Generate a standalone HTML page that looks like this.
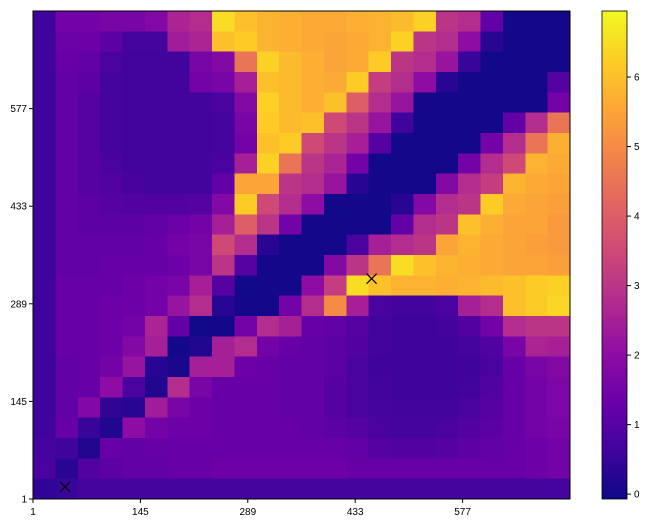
<!DOCTYPE html>
<html><head><meta charset="utf-8">
<style>
body{margin:0;background:#fff;width:647px;height:524px;overflow:hidden;font-family:"Liberation Sans",sans-serif;}
svg text{font-family:"Liberation Sans",sans-serif;font-size:10px;fill:#000;}
</style></head>
<body>
<svg id="chart" width="647" height="524" viewBox="0 0 647 524" xmlns="http://www.w3.org/2000/svg">
<g id="cells" shape-rendering="crispEdges"></g>
<g id="axes"></g>
<g id="cbar"></g>
</svg>
<script>
const xTickLabels = [1, 145, 289, 433, 577];
const yTickLabels = [1, 145, 289, 433, 577];
const cbarTicks = [0, 1, 2, 3, 4, 5, 6];
const markerX = [44, 455];
const markerY = [19, 326];
const r0 = [0.6,1.5,1.5,1.6,1.6,1.8,2.6,2.8,6.5,6.0,5.8,5.7,5.6,5.6,5.7,5.8,5.9,6.3,3.0,2.8,1.2,0,0,0];
const r1 = [0.6,1.4,1.4,1.1,0.7,0.7,2.4,2.6,6.0,6.2,5.8,5.7,5.6,5.5,5.6,5.8,6.3,3.0,2.8,2.0,0.3,0,0,0];
const r2 = [0.6,1.3,1.2,0.8,0.65,0.65,0.65,1.6,1.8,4.5,6.3,5.9,5.7,5.5,5.6,6.2,3.0,2.8,2.2,0.5,0,0,0,0];
const r3 = [0.6,1.2,1.1,0.7,0.65,0.65,0.65,1.5,1.6,2.5,6.0,5.9,5.7,5.6,6.2,3.2,2.8,2.0,0.3,0,0,0,0,1.0];
const r4 = [0.6,1.2,1.0,0.7,0.65,0.65,0.65,0.65,0.8,1.8,6.3,5.9,5.7,6.0,4.0,2.8,2.2,0,0,0,0,0,0,1.5];
const r5 = [0.6,1.2,1.0,0.7,0.65,0.65,0.65,0.65,0.7,1.6,6.2,5.9,6.0,3.5,3.0,2.2,0.6,0,0,0,0,1.2,2.8,4.5];
const r6 = [0.6,1.2,1.0,0.7,0.65,0.65,0.65,0.65,0.7,1.5,6.0,6.2,3.5,3.0,2.5,1.0,0,0,0,0,1.5,2.8,4.5,5.7];
const r7 = [0.6,1.2,1.0,0.8,0.65,0.65,0.65,0.65,0.8,2.5,6.3,4.5,3.0,2.6,1.5,0,0,0,0,1.5,2.8,3.5,5.8,5.6];
const r8 = [0.6,1.2,1.0,0.9,0.75,0.65,0.65,0.65,1.2,5.5,5.5,3.0,2.8,2.2,0.3,0,0,0,1.8,2.8,3.2,5.8,5.6,5.5];
const r9 = [0.6,1.2,1.1,1.0,0.9,0.9,0.9,1.0,1.8,6.2,3.5,2.8,2.0,0,0,0,0.3,1.8,2.8,3.0,6.2,5.6,5.5,5.4];
const r10 = [0.6,1.2,1.1,1.1,1.1,1.2,1.4,1.5,2.5,4.0,3.0,1.5,0,0,0,0,1.2,2.8,3.0,6.0,5.7,5.5,5.5,5.3];
const r11 = [0.6,1.2,1.2,1.2,1.2,1.3,1.5,1.6,3.5,2.8,0.3,0,0,0,0.8,2.5,2.8,3.0,5.5,5.8,5.6,5.5,5.4,5.3];
const r12 = [0.6,1.2,1.2,1.3,1.3,1.3,1.4,1.6,3.0,1.0,0,0,0,1.8,3.0,4.5,6.5,6.0,5.8,5.7,5.6,5.5,5.5,5.4];
const r13 = [0.6,1.3,1.3,1.3,1.4,1.5,1.6,2.5,1.0,0,0,0,2.0,3.2,6.5,6.0,5.8,5.8,5.7,5.8,5.9,6.0,6.2,6.3];
const r14 = [0.6,1.3,1.3,1.4,1.4,1.5,2.2,2.8,0.3,0,0,1.5,2.8,5.0,2.5,0.8,0.65,0.65,0.8,2.5,2.8,6.0,6.2,6.4];
const r15 = [0.6,1.3,1.3,1.4,1.5,2.6,1.2,0,0,1.5,2.8,2.5,1.3,1.2,1.0,0.65,0.6,0.6,0.65,0.9,1.5,2.8,3.0,3.0];
const r16 = [0.6,1.3,1.3,1.4,1.8,2.5,0,0.2,2.5,2.8,1.5,1.3,1.2,1.1,0.9,0.65,0.6,0.6,0.6,0.7,0.9,1.6,2.6,2.5];
const r17 = [0.6,1.2,1.3,1.5,2.2,0.3,0.1,2.5,2.5,1.4,1.3,1.2,1.2,1.1,0.8,0.6,0.6,0.6,0.6,0.6,0.8,1.3,1.6,1.8];
const r18 = [0.6,1.2,1.3,2.0,0.8,0.2,2.8,1.6,1.3,1.3,1.3,1.2,1.2,1.0,0.8,0.65,0.6,0.6,0.6,0.65,0.9,1.3,1.5,1.7];
const r19 = [0.6,1.2,1.8,0.4,0.3,2.4,1.6,1.4,1.3,1.3,1.3,1.2,1.2,1.0,0.8,0.7,0.65,0.65,0.65,0.8,1.0,1.3,1.5,1.7];
const r20 = [0.6,1.3,0.5,0.2,2.0,1.5,1.4,1.4,1.3,1.3,1.3,1.3,1.2,1.1,1.0,0.8,0.7,0.7,0.8,0.9,1.1,1.3,1.5,1.6];
const r21 = [0.7,0.6,0.2,1.3,1.2,1.3,1.3,1.3,1.3,1.3,1.3,1.3,1.3,1.3,1.2,1.0,0.9,0.9,1.0,1.1,1.2,1.3,1.4,1.5];
const r22 = [0.8,0.3,0.9,1.1,1.2,1.2,1.3,1.3,1.4,1.4,1.4,1.4,1.4,1.4,1.3,1.3,1.3,1.3,1.3,1.3,1.3,1.3,1.4,1.5];
const r23 = [0.4,0.5,0.7,0.7,0.7,0.7,0.7,0.7,0.7,0.7,0.7,0.7,0.7,0.7,0.7,0.7,0.7,0.7,0.7,0.7,0.7,0.7,0.7,0.7];
const grid = [r0,r1,r2,r3,r4,r5,r6,r7,r8,r9,r10,r11,r12,r13,r14,r15,r16,r17,r18,r19,r20,r21,r22,r23];

const NS = "http://www.w3.org/2000/svg";
const PX0 = 33, PX1 = 570, PY0 = 11, PY1 = 499;
const VMIN = -0.07, VMAX = 6.95;
const DMIN = 1, DMAX = 721;
function xData(v){ return PX0 + (v - DMIN) / (DMAX - DMIN) * (PX1 - PX0); }
function yData(v){ return PY1 - (v - DMIN) / (DMAX - DMIN) * (PY1 - PY0); }
const nCols = grid[0].length, nRows = grid.length;
function colX(c){ return PX0 + c * (PX1 - PX0) / nCols; }
function rowY(r){ return PY0 + r * (PY1 - PY0) / nRows; }
const stops = ["#0d0887","#41049d","#6a00a8","#8f0da4","#b12a90","#cc4778","#e16462","#f2844b","#fca636","#fcce25","#f0f921"];
function hex(h){ return [parseInt(h.substr(1,2),16),parseInt(h.substr(3,2),16),parseInt(h.substr(5,2),16)]; }
function plasma(v){
  let t = (v - VMIN) / (VMAX - VMIN); t = Math.max(0, Math.min(1, t));
  const f = t * 10, i = Math.min(9, Math.floor(f)), u = f - i;
  const a = hex(stops[i]), b = hex(stops[i+1]);
  return "rgb(" + a.map((x,k)=>Math.round(x + (b[k]-x)*u)).join(",") + ")";
}
function mk(tag, attrs, parent){
  const e = document.createElementNS(NS, tag);
  for (const k in attrs) e.setAttribute(k, attrs[k]);
  parent.appendChild(e); return e;
}
const cells = document.getElementById("cells");
for (let r = 0; r < nRows; r++) {
  for (let c = 0; c < nCols; c++) {
    const x0 = colX(c), x1 = colX(c+1), y0 = rowY(r), y1 = rowY(r+1);
    const rect = mk("rect", {x:x0, y:y0, width:x1-x0+0.6, height:y1-y0+0.6, fill:plasma(grid[r][c])}, cells);
    
    
  }
}
const axes = document.getElementById("axes");
const frame = mk("rect", {x:PX0, y:PY0, width:PX1-PX0, height:PY1-PY0, fill:"none", stroke:"#000", "stroke-width":1}, axes);


xTickLabels.forEach(v => {
  const x = xData(v);
  const tk = mk("line", {x1:x, x2:x, y1:PY1, y2:PY1+4, stroke:"#000"}, axes);
  
  
  const t = mk("text", {x:x, y:PY1+16, "text-anchor":"middle"}, axes);
  t.textContent = v;
  
  
});
yTickLabels.forEach(v => {
  const y = yData(v);
  const tk = mk("line", {x1:PX0-4, x2:PX0, y1:y, y2:y, stroke:"#000"}, axes);
  
  
  const t = mk("text", {x:PX0-6, y:y+3.5, "text-anchor":"end"}, axes);
  t.textContent = v;
  
  
});
markerX.forEach((mx, i) => {
  const cx = xData(mx), cy = yData(markerY[i]);
  const g = mk("path", {d:`M${cx-5},${cy-5}L${cx+5},${cy+5}M${cx-5},${cy+5}L${cx+5},${cy-5}`, stroke:"#000", "stroke-width":1.2, fill:"none"}, axes);
  
  
});
const cb = document.getElementById("cbar");
const CX0 = 602, CX1 = 627;
function cbY(v){ return PY1 - (v - VMIN) / (VMAX - VMIN) * (PY1 - PY0); }
const defs = mk("defs", {}, cb);
const lg = mk("linearGradient", {id:"pg", x1:0, y1:1, x2:0, y2:0}, defs);
stops.forEach((s,i)=> mk("stop", {offset:(i/10), "stop-color":s}, lg));
const bar = mk("rect", {x:CX0, y:PY0, width:CX1-CX0, height:PY1-PY0, fill:"url(#pg)", stroke:"#000", "stroke-width":0.8}, cb);


cbarTicks.forEach(v => {
  const y = cbY(v);
  const tk = mk("line", {x1:CX1, x2:CX1+4, y1:y, y2:y, stroke:"#000"}, cb);
  
  
  const t = mk("text", {x:CX1+7, y:y+3.5}, cb);
  t.textContent = v;
  
  
});
</script>
</body></html>
